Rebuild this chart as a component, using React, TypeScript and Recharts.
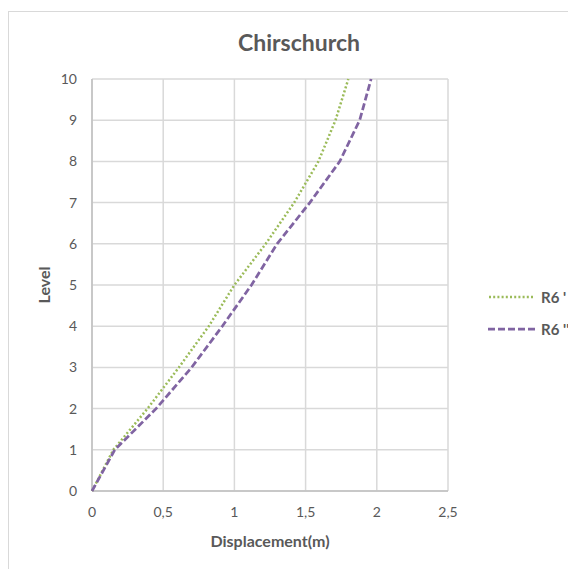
import { CartesianGrid, Scatter, ScatterChart, XAxis, YAxis } from "recharts";

// Storey levels and peak displacement (m) per level
const levels = [0, 1, 2, 3, 4, 5, 6, 7, 8, 9, 10];
const r6Prime = [0, 0.15, 0.39, 0.61, 0.82, 1.0, 1.22, 1.42, 1.59, 1.71, 1.8];
const r6DoublePrime = [0, 0.16, 0.45, 0.7, 0.915, 1.12, 1.3, 1.53, 1.74, 1.88, 1.96];

const xTicks = [0, 0.5, 1, 1.5, 2, 2.5];
const yTicks = [0, 1, 2, 3, 4, 5, 6, 7, 8, 9, 10];

const GREEN = "#9bbb59";
const PURPLE = "#8064a2";
const TEXT = "#595959";
const FONT = "Lato, 'Open Sans', sans-serif";

const toPoints = (xs: number[]) => levels.map((lvl, i) => ({ x: xs[i], y: lvl }));

const noDot = () => <g />;

export default function App() {
  return (
    <div
      style={{
        position: "relative",
        marginTop: 3,
        width: 600,
        height: 570,
        border: "1px solid #d9d9d9",
        fontFamily: FONT,
      }}
    >
      <div
        style={{
          position: "absolute",
          left: 0,
          width: 580,
          top: 16,
          textAlign: "center",
          fontSize: 23,
          fontWeight: 700,
          color: TEXT,
        }}
      >
        Chirschurch
      </div>

      <ScatterChart width={600} height={557} margin={{ top: 67, right: 161, bottom: 18, left: 0 }}>
        <CartesianGrid stroke="#d9d9d9" strokeWidth={1.5} />
        <XAxis
          type="number"
          dataKey="x"
          domain={[0, 2.5]}
          ticks={xTicks}
          interval={0}
          height={60}
          tickLine={false}
          tickMargin={10}
          axisLine={{ stroke: "#bfbfbf", strokeWidth: 1.5 }}
          tick={{ fill: TEXT, fontSize: 14, fontFamily: FONT }}
          tickFormatter={(v: number) => String(v).replace(".", ",")}
          label={{
            value: "Displacement(m)",
            position: "center",
            dy: 20,
            fill: TEXT,
            fontSize: 16,
            fontWeight: 700,
            fontFamily: FONT,
          }}
        />
        <YAxis
          type="number"
          dataKey="y"
          domain={[0, 10]}
          ticks={yTicks}
          interval={0}
          width={83}
          tickLine={false}
          tickMargin={9}
          axisLine={{ stroke: "#bfbfbf", strokeWidth: 1.5 }}
          tick={{ fill: TEXT, fontSize: 14, fontFamily: FONT }}
          label={{
            value: "Level",
            angle: -90,
            position: "center",
            dx: -6,
            fill: TEXT,
            fontSize: 16,
            fontWeight: 700,
            fontFamily: FONT,
          }}
        />
        <Scatter
          name="R6 '"
          data={toPoints(r6Prime)}
          line={{ stroke: GREEN, strokeWidth: 2.5, strokeDasharray: "2 2.2" }}
          shape={noDot}
          isAnimationActive={false}
        />
        <Scatter
          name="R6 ''"
          data={toPoints(r6DoublePrime)}
          line={{ stroke: PURPLE, strokeWidth: 2.75, strokeDasharray: "7 3" }}
          shape={noDot}
          isAnimationActive={false}
        />
      </ScatterChart>

      {/* legend, right of the plot */}
      <div style={{ position: "absolute", left: 479, top: 269, color: TEXT, fontSize: 15, fontWeight: 700 }}>
        <div style={{ display: "flex", alignItems: "center", height: 32 }}>
          <svg width={53} height={6}>
            <line x1={1} y1={3} x2={45} y2={3} stroke={GREEN} strokeWidth={2.5} strokeDasharray="2 2.2" />
          </svg>
          <span>R6 '</span>
        </div>
        <div style={{ display: "flex", alignItems: "center", height: 32 }}>
          <svg width={53} height={6}>
            <line x1={0} y1={3} x2={49} y2={3} stroke={PURPLE} strokeWidth={2.75} strokeDasharray="7 3" />
          </svg>
          <span>R6 ''</span>
        </div>
      </div>
    </div>
  );
}
